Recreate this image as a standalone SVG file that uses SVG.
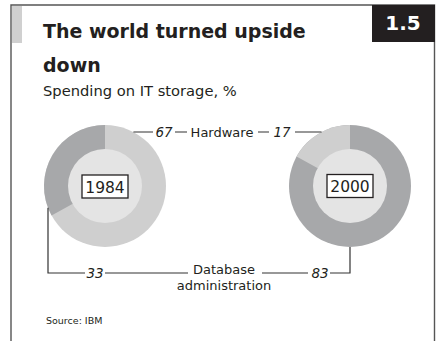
<svg xmlns="http://www.w3.org/2000/svg" width="436" height="341" viewBox="0 0 436 341">
<style>
text{font-family:"DejaVu Sans","Liberation Sans",sans-serif;fill:#231f20}
.title{font-size:19px;font-weight:bold}
.sub{font-size:14.7px}
.lbl{font-size:13px}
.num{font-size:13.5px;font-style:italic}
.yr{font-size:15.5px}
.src{font-size:9.5px}
.ln{stroke:#333;stroke-width:1.2;fill:none}
.frame{stroke:#555;stroke-width:1.4;fill:none}
.hw{fill:#cfcfcf}
.db{fill:#a7a8aa}
.hole{fill:#e4e4e4}
.ybox{fill:#fff;stroke:#231f20;stroke-width:1.3}
</style>
<g id="frame">
<path class="frame" d="M11,341 V5 H434.5 V341"/>
<rect x="12" y="6" width="10" height="37" fill="#d0d0d0"/>
<rect x="372" y="5" width="63" height="37" fill="#231f20"/>
<text x="403" y="30" text-anchor="middle" style="font-size:20px;font-weight:bold;fill:#fff">1.5</text>
</g>
<g id="title">
<text class="title" x="43" y="38">The world turned upside</text>
<text class="title" x="43" y="72">down</text>
<text class="sub" x="43" y="96">Spending on IT storage, %</text>
</g>
<g id="donut1984">
<circle class="hw" cx="105" cy="186" r="61"/>
<path class="db" d="M105,186 L51.55,215.39 A61,61 0 0 1 105,125 Z"/>
<circle class="hole" cx="105" cy="186" r="37"/>
<rect class="ybox" x="82" y="175" width="46" height="23"/>
<text class="yr" x="105" y="192.5" text-anchor="middle">1984</text>
</g>
<g id="donut2000">
<circle class="db" cx="350" cy="186" r="61"/>
<path class="hw" d="M350,186 L296.55,156.61 A61,61 0 0 1 350,125 Z"/>
<circle class="hole" cx="350" cy="186" r="37"/>
<rect class="ybox" x="327" y="174.5" width="46" height="23"/>
<text class="yr" x="350" y="192" text-anchor="middle">2000</text>
</g>
<g id="connectors">
<path class="ln" d="M133.4,132 H153 M175,132 H187 M258,132 H269 M295,132 H321.6"/>
<path class="ln" d="M48,207.7 V273 H85 M105,273 H188 M262,273 H308 M330,273 H350 V247"/>
</g>
<g id="labels">
<text class="num" x="164" y="137" text-anchor="middle">67</text>
<text class="lbl" x="222" y="137" text-anchor="middle">Hardware</text>
<text class="num" x="282" y="137" text-anchor="middle">17</text>
<text class="num" x="95" y="278" text-anchor="middle">33</text>
<text class="num" x="320" y="278" text-anchor="middle">83</text>
<text class="lbl" x="224" y="274" text-anchor="middle">Database</text>
<text class="lbl" x="224" y="290" text-anchor="middle">administration</text>
<text class="src" x="46" y="324">Source: IBM</text>
</g>
</svg>
